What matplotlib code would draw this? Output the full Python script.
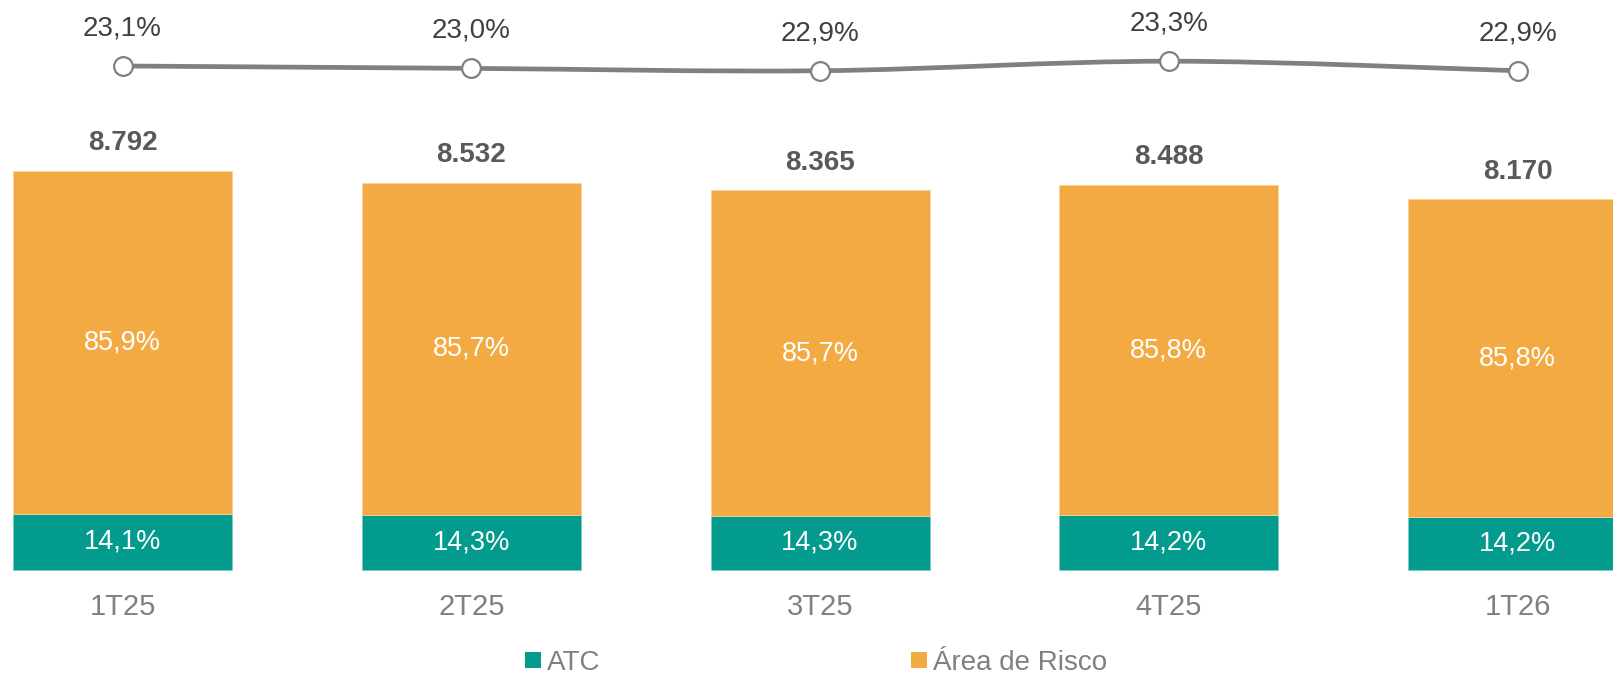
import matplotlib
matplotlib.use("Agg")
import matplotlib.pyplot as plt
from matplotlib.path import Path
from matplotlib.patches import PathPatch, Patch

plt.rcParams["font.family"] = ["Liberation Sans", "DejaVu Sans"]

# data
quarters = ["1T25", "2T25", "3T25", "4T25", "1T26"]
totals = [8792, 8532, 8365, 8488, 8170]
atc_pct = [14.1, 14.3, 14.3, 14.2, 14.2]
risco_pct = [85.9, 85.7, 85.7, 85.8, 85.8]
line_pct = [23.1, 23.0, 22.9, 23.3, 22.9]

TEAL = "#029B8E"
ORANGE = "#F3AA43"
GRAY = "#808080"
DARK = "#595959"

fig = plt.figure(figsize=(16.13, 6.75), dpi=100)
ax = fig.add_axes([0, 0, 1, 1])
ax2 = ax.twinx()

x = list(range(len(quarters)))
atc_vals = [t * p / 100 for t, p in zip(totals, atc_pct)]
risco_vals = [t - a for t, a in zip(totals, atc_vals)]

w = 0.628
ax.bar(x, atc_vals, width=w, color=TEAL, edgecolor="#7fcdc6", linewidth=0.6, zorder=2)
ax.bar(x, risco_vals, bottom=atc_vals, width=w, color=ORANGE, edgecolor="#f9d3a0",
       linewidth=0.6, zorder=2)

for i in x:
    ax.text(i, atc_vals[i] / 2, f"{atc_pct[i]:.1f}%".replace(".", ","),
            ha="center", va="center", color="white", fontsize=19.5)
    ax.text(i, atc_vals[i] + risco_vals[i] / 2, f"{risco_pct[i]:.1f}%".replace(".", ","),
            ha="center", va="center", color="white", fontsize=19.5)
    ax.annotate(f"{totals[i]:,}".replace(",", "."), (i, totals[i]),
                xytext=(0, 20), textcoords="offset points",
                ha="center", va="center", fontsize=20, fontweight="bold", color=DARK)
    ax.text(i, -815, quarters[i], ha="center", va="center", fontsize=21, color=GRAY)

ax.set_xlim(-0.3513, 4.2738)
ax.set_ylim(-2314, 12563)
ax.axis("off")

# smoothed line (bezier through the points)
pts = list(zip(x, line_pct))
verts = [pts[0]]
codes = [Path.MOVETO]
for k in range(len(pts) - 1):
    p0 = pts[k - 1] if k > 0 else pts[k]
    p1 = pts[k]
    p2 = pts[k + 1]
    p3 = pts[k + 2] if k + 2 < len(pts) else pts[k + 1]
    c1 = (p1[0] + (p2[0] - p0[0]) / 6, p1[1] + (p2[1] - p0[1]) / 6)
    c2 = (p2[0] - (p3[0] - p1[0]) / 6, p2[1] - (p3[1] - p1[1]) / 6)
    verts += [c1, c2, p2]
    codes += [Path.CURVE4] * 3
ax2.add_patch(PathPatch(Path(verts, codes), facecolor="none", edgecolor=GRAY,
                        linewidth=3.4, zorder=3))
ax2.plot(x, line_pct, "o", ms=13.5, mfc="white", mec=GRAY, mew=1.6, zorder=4)
for i in x:
    ax2.annotate(f"{line_pct[i]:.1f}%".replace(".", ","), (i, line_pct[i]),
                 xytext=(0, 27), textcoords="offset points",
                 ha="center", va="center", fontsize=20, color="#404040")
ax2.set_ylim(-2.38, 25.86)
ax2.set_xlim(-0.3513, 4.2738)
ax2.axis("off")

handles = [Patch(facecolor=TEAL), Patch(facecolor=ORANGE)]
fig.legend(handles, ["ATC", "Área de Risco"], loc="center", bbox_to_anchor=(0.506, 0.018),
           ncol=2, frameon=False, fontsize=20, labelcolor=GRAY, borderpad=0,
           handlelength=0.57, handleheight=0.5, handletextpad=0.2, columnspacing=11.2)

fig.savefig("out.png", dpi=100)
